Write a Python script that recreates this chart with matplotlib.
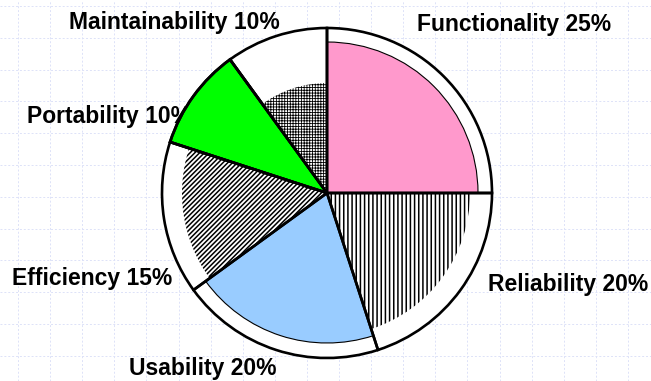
import matplotlib.pyplot as plt
from matplotlib.patches import Wedge, Circle
import numpy as np

# quality attributes and their weights (clockwise from 12 o'clock)
names = ["Functionality", "Reliability", "Usability", "Efficiency", "Portability", "Maintainability"]
shares = [25, 20, 20, 15, 10, 10]

# drawing style for each slice
radii = [151, 143, 150, 145, 165, 110]
faces = ["#FF99CC", "white", "#99CCFF", "white", "#00FF00", "white"]
hatches = [None, "||||", None, "///////", None, "++++++"]
hatch_w = [1.1, 1.1, 1.1, 1.1, 1.1, 0.6]
edge_w = [0.8, 0, 0.8, 0, 2.0, 0]
# label anchors in pixels (x, y from top)
label_xy = [(514, 25), (568, 285), (203, 368), (92, 278), (109, 117), (174, 22)]

plt.rcParams['font.family'] = ['Liberation Sans', 'DejaVu Sans']

fig = plt.figure(figsize=(6.51, 3.81), dpi=100)
ax = fig.add_axes([0, 0, 1, 1])
ax.set_xlim(0, 651)
ax.set_ylim(381, 0)

# light dashed paper grid, kept under everything
ax.set_axisbelow(True)
ax.set_xticks(np.arange(18, 651, 32.1))
ax.set_yticks(np.arange(6, 381, 31.8))
ax.grid(True, ls=(0, (2, 2)), color="#DDE2F8", lw=0.7)
ax.tick_params(length=0, labelbottom=False, labelleft=False)
for s in ax.spines.values():
    s.set_visible(False)

cx, cy, R = 327, 193, 165
ax.add_patch(Circle((cx, cy), R, facecolor="white", edgecolor="none", zorder=2))

start = 0
for i, sh in enumerate(shares):
    t1 = -90 + start * 3.6
    t2 = -90 + (start + sh) * 3.6
    with plt.rc_context({'hatch.linewidth': hatch_w[i]}):
        w = Wedge((cx, cy), radii[i], t1, t2, facecolor=faces[i], edgecolor="black",
                  linewidth=edge_w[i], hatch=hatches[i], zorder=3)
        ax.add_patch(w)
    # outer outline of the slice
    ax.add_patch(Wedge((cx, cy), R, t1, t2, facecolor="none", edgecolor="black",
                       linewidth=1.9, zorder=4))
    start += sh

for i, (x, y) in enumerate(label_xy):
    ax.text(x, y, f"{names[i]} {shares[i]}%", ha="center", va="center",
            fontsize=16.5, fontweight="bold", zorder=1)

fig.savefig("out.png", dpi=100)
